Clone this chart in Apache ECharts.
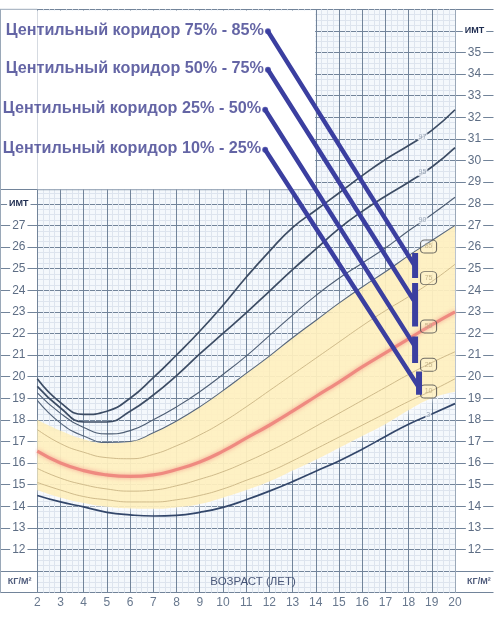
<!DOCTYPE html>
<html><head><meta charset="utf-8">
<script src="https://cdn.jsdelivr.net/npm/echarts@6/dist/echarts.min.js"></script>
<style>html,body{margin:0;padding:0;background:#fff}#c{width:494px;height:619px}</style>
</head><body><div id="c"></div>
<script>
// ---- data ----
const ages = [2,3,4,5,6,7,8,9,10,11,12,13,14,15,16,17,18,19,20];
const p97 = [19.9,18.8,18.25,18.4,19.0,19.95,21.0,22.1,23.3,24.6,25.8,26.9,27.7,28.5,29.3,30.05,30.7,31.4,32.35];
const p95 = [19.55,18.55,17.9,17.9,18.4,19.15,20.05,21.05,22.0,22.95,23.95,24.95,25.9,26.85,27.65,28.35,29.0,29.7,30.6];
const p90 = [19.25,18.3,17.65,17.35,17.5,18.0,18.6,19.3,20.1,20.95,21.9,22.85,23.75,24.55,25.25,25.95,26.75,27.5,28.3];
const p85 = [18.9,17.85,17.25,16.95,17.0,17.4,17.95,18.6,19.35,20.15,20.95,21.8,22.6,23.4,24.15,24.85,25.6,26.3,27.0];
const p75 = [17.55,16.9,16.5,16.25,16.2,16.4,16.8,17.3,17.9,18.6,19.35,20.1,20.85,21.6,22.35,23.05,23.7,24.4,25.2];
const p50 = [16.55,16.0,15.65,15.45,15.38,15.45,15.7,16.05,16.55,17.15,17.75,18.4,19.08,19.75,20.45,21.1,21.75,22.4,23.0];
const p25 = [15.75,15.3,15.0,14.8,14.7,14.75,14.95,15.25,15.6,16.05,16.55,17.1,17.7,18.3,18.9,19.5,20.1,20.65,21.15];
const p10 = [15.1,14.75,14.45,14.3,14.2,14.2,14.3,14.5,14.8,15.2,15.6,16.1,16.65,17.2,17.75,18.3,18.85,19.35,19.9];
const p3  = [14.5,14.2,13.97,13.72,13.6,13.55,13.58,13.72,13.95,14.3,14.7,15.14,15.62,16.1,16.64,17.23,17.8,18.27,18.75];
const bandTop    = [18.0,17.5,17.1,16.92,17.0,17.4,17.95,18.6,19.35,20.15,20.95,21.8,22.6,23.4,24.15,24.85,25.6,26.3,27.0];
const bandBottom = [14.75,14.4,14.15,13.98,13.9,13.88,13.95,14.1,14.4,14.75,15.15,15.65,16.15,16.7,17.25,17.8,18.45,19.0,19.3];

const boxLabelText  = ['85','75','50','25','10'];
const boxLabelAge   = [18.86,18.86,18.86,18.86,18.86];
const boxLabelValue = [26.02,24.56,22.32,20.55,19.31];
const lineLabelText  = ['97','95','90','3'];
const lineLabelAge   = [18.6,18.6,18.6,18.85];
const lineLabelValue = [31.1,29.45,27.25,18.23];

const pointerText = [
  'Центильный коридор 75% - 85%',
  'Центильный коридор 50% - 75%',
  'Центильный коридор 25% - 50%',
  'Центильный коридор 10% - 25%'
];
const pointerStart = [[11.94,35.98],[11.94,34.2],[11.82,32.35],[11.82,30.5]];
const pointerEnd   = [[18.28,25.1],[18.21,23.56],[18.28,21.39],[18.42,19.54]];
const pointerBar   = [[18.28,25.72,24.57],[18.28,24.33,22.32],[18.28,21.86,20.63],[18.45,20.24,19.16]];

const xTickMin = 2, xTickMax = 20;
const yMin = 10, yMax = 37;
const coverBottom = 28.65;
const axisTitle = 'ВОЗРАСТ (ЛЕТ)';
const unitText = 'КГ/М²';
const yName = 'ИМТ';
const leftLabelMax = 27, rightLabelMax = 35, labelMin = 12;

// ---- layout ----
const W = 494, Hh = 619;
const T = 9.3, B = 26.3, L = 37.3, R = 39;
const plotH = Hh - T - B;
const top1 = T + (yMax - coverBottom) / (yMax - yMin) * plotH;
const FONT = '"Liberation Sans", Arial, sans-serif';
const gridCol = '#72849a';
const minorCol = '#dde4ee';
const blue = '#3b3fa0';
const SMOOTH = 0.5;

const chart = echarts.init(document.getElementById('c'));
const zipA = arr => ages.map((a, i) => [a, arr[i]]);
const isInt = v => Math.abs(v - Math.round(v)) < 1e-6;

// same smoothing rule the line series use, so the band edges follow the curves
function smoothBeziers(pts, smooth) {
  const segs = [];
  let cpx0 = pts[0][0], cpy0 = pts[0][1];
  for (let i = 1; i < pts.length; i++) {
    const x = pts[i][0], y = pts[i][1], prevX = pts[i - 1][0], prevY = pts[i - 1][1];
    let cpx1, cpy1, nx0, ny0;
    if (i === pts.length - 1) { cpx1 = x; cpy1 = y; }
    else {
      const nextX = pts[i + 1][0], nextY = pts[i + 1][1];
      let vx = nextX - prevX, vy = nextY - prevY;
      const lenPrev = Math.hypot(x - prevX, y - prevY), lenNext = Math.hypot(nextX - x, nextY - y);
      const ratio = lenNext / (lenNext + lenPrev);
      nx0 = x + vx * smooth * ratio; ny0 = y + vy * smooth * ratio;
      nx0 = Math.max(Math.min(nx0, Math.max(nextX, x)), Math.min(nextX, x));
      ny0 = Math.max(Math.min(ny0, Math.max(nextY, y)), Math.min(nextY, y));
      vx = nx0 - x; vy = ny0 - y;
      cpx1 = x - vx * lenPrev / lenNext; cpy1 = y - vy * lenPrev / lenNext;
      cpx1 = Math.max(Math.min(cpx1, Math.max(prevX, x)), Math.min(prevX, x));
      cpy1 = Math.max(Math.min(cpy1, Math.max(prevY, y)), Math.min(prevY, y));
      vx = x - cpx1; vy = y - cpy1;
      nx0 = x + vx * lenNext / lenPrev; ny0 = y + vy * lenNext / lenPrev;
    }
    segs.push([[prevX, prevY], [cpx0, cpy0], [cpx1, cpy1], [x, y]]);
    cpx0 = nx0; cpy0 = ny0;
  }
  return segs;
}
function bez(s, t) {
  const u = 1 - t;
  return [0, 1].map(k => u*u*u*s[0][k] + 3*u*u*t*s[1][k] + 3*u*t*t*s[2][k] + t*t*t*s[3][k]);
}
function curvePoints(pts) {
  const out = [pts[0]];
  smoothBeziers(pts, SMOOTH).forEach(s => { for (let j = 1; j <= 12; j++) out.push(bez(s, j / 12)); });
  return out;
}

function pLine(name, arr, color, width, extra) {
  return Object.assign({
    name, type: 'line', data: zipA(arr), smooth: SMOOTH, symbol: 'none', z: 3,
    lineStyle: { color, width }, silent: true
  }, extra || {});
}

const series = [];
// yellow corridor between bandBottom and bandTop
series.push({
  type: 'custom', coordinateSystem: 'cartesian2d', data: [[ages[0], bandTop[0]]], z: 1, silent: true,
  renderItem: (params, api) => {
    const top = curvePoints(ages.map((a, i) => api.coord([a, bandTop[i]])));
    const bot = curvePoints(ages.map((a, i) => api.coord([a, bandBottom[i]])));
    return { type: 'polygon', shape: { points: top.concat(bot.reverse()) },
      style: { fill: 'rgba(255,236,176,0.74)', shadowBlur: 6, shadowOffsetY: 2, shadowColor: 'rgba(255,255,255,1)' } };
  }
});

series.push(pLine('p75', p75, '#c9b483', 0.9));
series.push(pLine('p25', p25, '#c9b483', 0.9));
series.push(pLine('p10', p10, '#c9b483', 0.9));
series.push(pLine('p50', p50, '#ef8b82', 3, { lineStyle: { color: '#ef8a80', width: 3.2, shadowBlur: 4, shadowColor: 'rgba(240,130,120,0.7)' } }));
series.push(pLine('p85', p85, '#56667c', 1.1));
series.push(pLine('p90', p90, '#4e5e74', 1.1));
series.push(pLine('p95', p95, '#3c4c64', 1.7));
series.push(pLine('p97', p97, '#3c4c64', 1.7));
series.push(pLine('p3', p3, '#32466a', 1.7));

// white cover of the upper-left corner and its lower edge
series.push({ type: 'line', data: [[xTickMin, coverBottom], [14, coverBottom]], symbol: 'none', z: 2, silent: true,
  lineStyle: { color: '#8a99ac', width: 1 },
  markArea: { silent: true, itemStyle: { color: '#ffffff', opacity: 1 },
    data: [[{ coord: [xTickMin, coverBottom + 0.02] }, { coord: [13.97, yMax - 0.05] }]] } });

// small labels on curves
series.push({ type: 'scatter', data: lineLabelAge.map((a, i) => [a, lineLabelValue[i]]), symbolSize: 1, z: 4, silent: true,
  itemStyle: { color: 'rgba(0,0,0,0)' },
  label: { show: true, position: 'inside', formatter: p => lineLabelText[p.dataIndex], fontSize: 7, color: '#8190a4',
    fontFamily: FONT, backgroundColor: '#f4f8fc', padding: [0, 1] } });
series.push({ type: 'scatter', data: boxLabelAge.map((a, i) => [a, boxLabelValue[i]]), symbol: 'roundRect', symbolSize: [16, 13], z: 4, silent: true,
  itemStyle: { color: 'rgba(255,255,255,0.12)', borderColor: '#4a4a4a', borderWidth: 1 },
  label: { show: true, position: 'inside', formatter: p => boxLabelText[p.dataIndex], fontSize: 7, color: '#b9a67a', fontFamily: FONT } });

// blue pointers
pointerStart.forEach((s, i) => {
  series.push({ type: 'line', data: [s, pointerEnd[i]], symbol: 'none', z: 6, silent: true,
    lineStyle: { color: blue, width: 4.5, cap: 'round' } });
  const b = pointerBar[i];
  series.push({ type: 'line', data: [[b[0], b[1]], [b[0], b[2]]], symbol: 'none', z: 6, silent: true,
    lineStyle: { color: blue, width: 6 } });
});
series.push({ type: 'scatter', data: pointerStart, symbolSize: 6, z: 7, silent: true,
  itemStyle: { color: blue },
  label: { show: true, position: 'left', distance: 1, offset: [0, -1], formatter: p => pointerText[p.dataIndex],
    fontSize: 16.2, fontWeight: 'bold', color: '#3d3f8f', fontFamily: FONT } });

// axis title and units in the bottom row
series.push({ type: 'scatter', data: [[11.3, 10.5]], symbolSize: 1, z: 4, silent: true, itemStyle: { color: 'rgba(0,0,0,0)' },
  label: { show: true, position: 'inside', formatter: axisTitle, fontSize: 11.5, color: '#22325a', fontFamily: FONT } });
series.push({ type: 'scatter', xAxisIndex: 1, yAxisIndex: 1, data: [[0.52, 10.5]], symbolSize: 1, silent: true, itemStyle: { color: 'rgba(0,0,0,0)' },
  label: { show: true, position: 'inside', formatter: unitText, fontSize: 9, fontWeight: 'bold', color: '#22325a', fontFamily: FONT } });
series.push({ type: 'scatter', xAxisIndex: 2, yAxisIndex: 2, data: [[0.62, 10.5]], symbolSize: 1, silent: true, itemStyle: { color: 'rgba(0,0,0,0)' },
  label: { show: true, position: 'inside', formatter: unitText, fontSize: 9, fontWeight: 'bold', color: '#22325a', fontFamily: FONT } });

const sideRich = {
  n: { fontSize: 12, color: '#5d6d84', backgroundColor: '#fff', padding: [1, 2], fontFamily: FONT },
  h: { fontSize: 9, fontWeight: 'bold', color: '#1e2c50', backgroundColor: '#fff', padding: [2, 2], fontFamily: FONT }
};
const splitL = { show: true, lineStyle: { color: gridCol, width: 1 } };

chart.setOption({
  animation: false,
  backgroundColor: '#fff',
  grid: [
    { left: L, right: R, top: T, bottom: B, show: true, backgroundColor: '#f4f8fc', borderWidth: 0 },
    { left: 0.5, width: L - 0.5, top: top1, bottom: B, show: true, backgroundColor: '#fff', borderWidth: 0 },
    { left: W - R, right: 0.5, top: T, bottom: B, show: true, backgroundColor: '#fff', borderWidth: 0 }
  ],
  xAxis: [
    { gridIndex: 0, type: 'value', min: xTickMin, max: xTickMax, interval: 1,
      axisLine: { show: false }, axisTick: { show: false },
      axisLabel: { color: '#68788e', fontSize: 12, margin: 4, fontFamily: FONT },
      splitLine: splitL, minorTick: { show: false, splitNumber: 4 },
      minorSplitLine: { show: true, lineStyle: { color: minorCol, width: 1 } } },
    { gridIndex: 1, type: 'value', min: 0, max: 1, show: false },
    { gridIndex: 2, type: 'value', min: 0, max: 1, show: false }
  ],
  yAxis: [
    { gridIndex: 0, type: 'value', min: yMin, max: yMax, interval: 1,
      axisLine: { show: false }, axisTick: { show: false }, axisLabel: { show: false },
      splitLine: splitL, minorTick: { show: false, splitNumber: 4 },
      minorSplitLine: { show: true, lineStyle: { color: minorCol, width: 1 } } },
    { gridIndex: 1, type: 'value', min: yMin, max: coverBottom, interval: 1,
      axisLine: { show: true, lineStyle: { color: '#9aa8b8', width: 1 } }, axisTick: { show: false },
      splitLine: splitL,
      axisLabel: { inside: true, align: 'center', margin: 18.3,
        formatter: v => (isInt(v) && v >= labelMin && v <= leftLabelMax) ? '{n|' + Math.round(v) + '}' : (isInt(v) && Math.round(v) === leftLabelMax + 1 ? '{h|' + yName + '}' : ''),
        rich: sideRich } },
    { gridIndex: 2, type: 'value', position: 'right', min: yMin, max: yMax, interval: 1,
      axisLine: { show: true, lineStyle: { color: '#9aa8b8', width: 1 } }, axisTick: { show: false },
      splitLine: splitL,
      axisLabel: { inside: true, align: 'center', margin: 19,
        formatter: v => (isInt(v) && v >= labelMin && v <= rightLabelMax) ? '{n|' + Math.round(v) + '}' : (isInt(v) && Math.round(v) === rightLabelMax + 1 ? '{h|' + yName + '}' : ''),
        rich: sideRich } }
  ],
  graphic: [
    { type: 'line', shape: { x1: 0, y1: T, x2: L, y2: T }, style: { stroke: '#9aa8b8', lineWidth: 1 }, silent: true },
    { type: 'line', shape: { x1: 0.5, y1: T, x2: 0.5, y2: top1 }, style: { stroke: '#9aa8b8', lineWidth: 1 }, silent: true }
  ],
  series
});
</script>
</body></html>
